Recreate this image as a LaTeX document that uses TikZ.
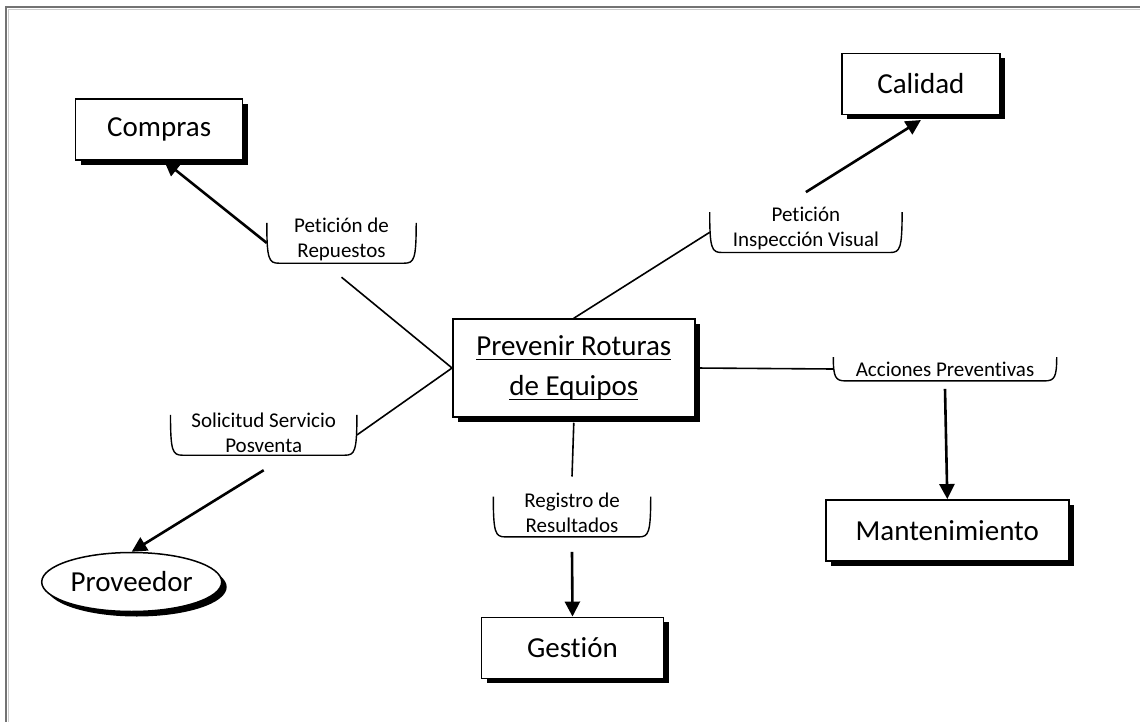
\documentclass[tikz,border=0pt]{standalone}
\usepackage{fontspec}
\setmainfont{Carlito}[Ligatures=CommonOff]
\usetikzlibrary{arrows.meta,shadows,shapes.geometric,calc}
\newcommand{\myul}[1]{\setbox0\hbox{#1}\rlap{\rule[-4.5pt]{\wd0}{1.6pt}}\box0}
\newcommand{\labbracket}[1]{\draw[brline] (#1.north west) .. controls ([yshift=4pt]#1.south west) and ([xshift=2pt]#1.south west) .. ([xshift=12pt]#1.south west) -- ([xshift=-12pt]#1.south east) .. controls ([xshift=-2pt]#1.south east) and ([yshift=4pt]#1.south east) .. (#1.north east);}
\tikzset{
  bigfont/.style={font=\fontsize{29}{40}\selectfont},
  labfont/.style={font=\fontsize{21}{25}\selectfont},
  shad/.style={drop shadow={shadow xshift=5pt, shadow yshift=-5pt, fill=black, opacity=1}},
  box/.style={draw, line width=1.5pt, fill=white, shad, bigfont, align=center, inner sep=0pt},
  oval/.style={ellipse, draw, line width=1.5pt, fill=white, shad, bigfont, inner sep=0pt},
  lab/.style={inner sep=0pt},
  labtxt/.style={labfont, align=center, inner sep=0pt},
  brline/.style={line width=1.4pt},
  plain/.style={line width=1.6pt},
  arr/.style={line width=2.6pt, -{Triangle[length=15pt,width=15pt]}},
}
\begin{document}
\begin{tikzpicture}[x=1pt,y=-1pt]
\useasboundingbox (0,0) rectangle (1140,722);
% frame (top and left)
\draw[line width=2.2pt, gray!90!black] (6,722) -- (6,7) -- (1140,7);
\draw[line width=0.8pt, gray!40] (8,722) -- (8,9) -- (1140,9);

% main nodes
\node[box, minimum width=242pt, minimum height=98pt] (prev) at (573.8,368) {\myul{Prevenir Roturas}\\\myul{de Equipos}};
\node[box, minimum width=167pt, minimum height=61pt] (comp) at (159.2,129.7) {Compras};
\node[box, minimum width=158pt, minimum height=61pt] (cal) at (920.9,83.8) {Calidad};
\node[box, minimum width=243pt, minimum height=61pt] (mant) at (947.3,530.3) {Mantenimiento};
\node[box, minimum width=182pt, minimum height=61pt] (ges) at (572.5,647.8) {Gestión};
\node[oval, minimum width=180pt, minimum height=59pt] (prov) at (131.7,582) {Proveedor};

% label brackets
\node[lab, minimum width=149pt, minimum height=40pt,
  label={[labtxt, yshift=4pt]center:Petición de\\Repuestos}] (rep) at (341.5,243) {};
\node[lab, minimum width=192pt, minimum height=40pt,
  label={[labtxt, yshift=3.6pt]center:Petición\\Inspección Visual}] (ins) at (805.9,232.3) {};
\node[lab, minimum width=186pt, minimum height=40pt,
  label={[labtxt, yshift=2.5pt]center:Solicitud Servicio\\Posventa}] (sol) at (263.7,435) {};
\node[lab, minimum width=157pt, minimum height=40pt,
  label={[labtxt, yshift=3.8pt]center:Registro de\\Resultados}] (reg) at (572,516.7) {};
\node[lab, minimum width=223pt, minimum height=23.4pt,
  label={[labtxt, yshift=0pt]center:Acciones Preventivas}] (acc) at (945,369) {};
\labbracket{rep}
\labbracket{ins}
\labbracket{sol}
\labbracket{reg}
\labbracket{acc}

% connectors
\draw[plain] (prev.west) -- ([yshift=-14pt]rep.south);
\draw[arr] (rep.west) -- ([xshift=5pt]comp.south);
\draw[plain] (prev.west) -- (sol.east);
\draw[arr] ([yshift=-15pt]sol.south) -- (prov.north);
\draw[plain] (prev.north) -- (ins.west);
\draw[arr] ([yshift=20pt]ins.north) -- ([yshift=-5pt]cal.south);
\draw[plain] (prev.east) -- (acc.west);
\draw[arr] ([yshift=-8pt]acc.south) -- (mant.north);
\draw[plain] ([yshift=-5pt]prev.south) -- ([yshift=20pt]reg.north);
\draw[arr] ([yshift=-15pt]reg.south) -- (ges.north);
\end{tikzpicture}
\end{document}
